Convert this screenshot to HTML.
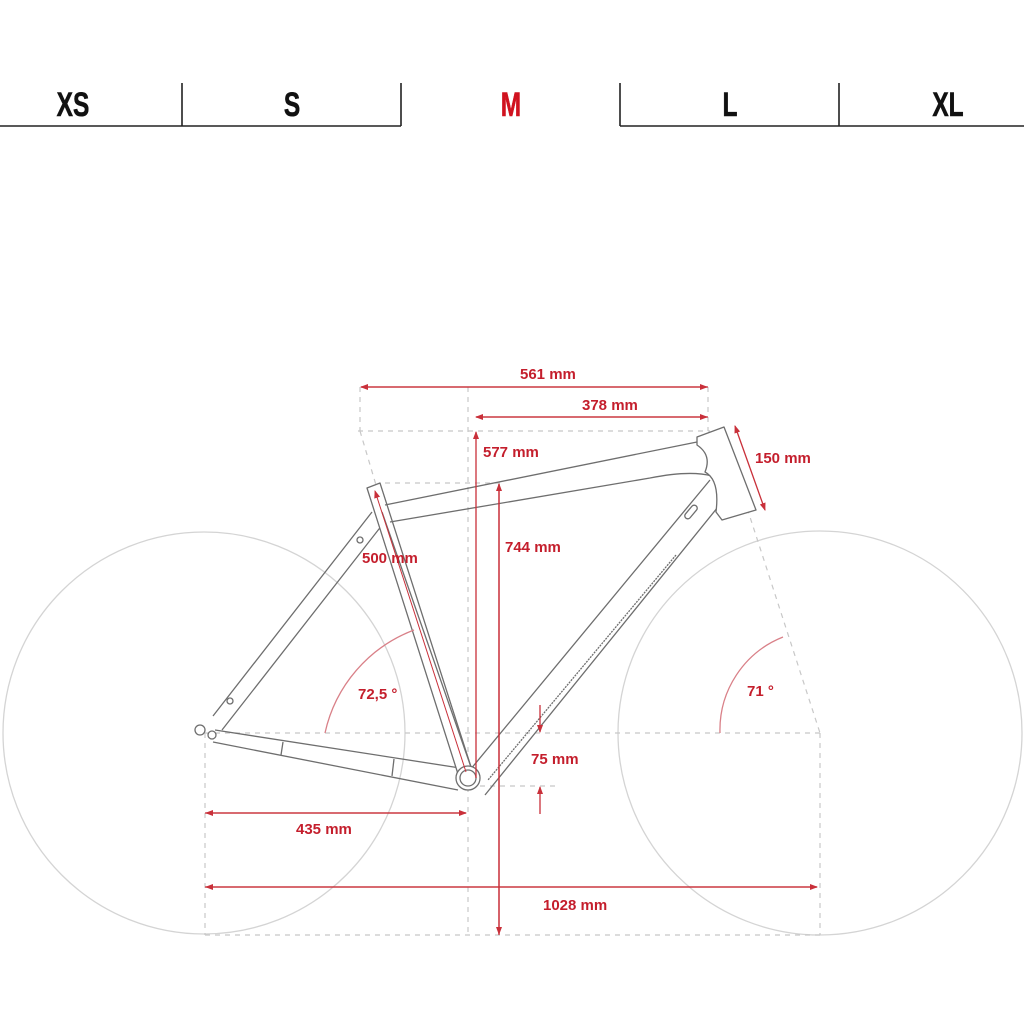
<!DOCTYPE html>
<html><head><meta charset="utf-8"><style>
html,body{margin:0;padding:0;background:#fff;}
svg{display:block;}
.t{font-family:"Liberation Sans",sans-serif;font-weight:bold;}
</style></head><body>
<svg width="1024" height="1024" viewBox="0 0 1024 1024" xmlns="http://www.w3.org/2000/svg">
<g stroke="#222" stroke-width="1.6" fill="none">
<line x1="0" y1="126" x2="401" y2="126"/>
<line x1="620" y1="126" x2="1024" y2="126"/>
<line x1="182" y1="83" x2="182" y2="126"/>
<line x1="401" y1="83" x2="401" y2="126"/>
<line x1="620" y1="83" x2="620" y2="126"/>
<line x1="839" y1="83" x2="839" y2="126"/>
</g>
<g class="t" font-size="34" text-anchor="middle" stroke-width="0.6">
<text x="73" y="116" fill="#111" stroke="#111" transform="translate(73 0) scale(0.72 1) translate(-73 0)">XS</text>
<text x="292" y="116" fill="#111" stroke="#111" transform="translate(292 0) scale(0.72 1) translate(-292 0)">S</text>
<text x="511" y="116" fill="#d0121f" stroke="#d0121f" transform="translate(511 0) scale(0.72 1) translate(-511 0)">M</text>
<text x="730" y="116" fill="#111" stroke="#111" transform="translate(730 0) scale(0.72 1) translate(-730 0)">L</text>
<text x="948" y="116" fill="#111" stroke="#111" transform="translate(948 0) scale(0.72 1) translate(-948 0)">XL</text>
</g>
<g stroke="#d4d4d4" stroke-width="1.3" fill="none">
<circle cx="204" cy="733" r="201"/>
<circle cx="820" cy="733" r="202"/>
</g>
<g stroke="#c8c8c8" stroke-width="1.2" fill="none" stroke-dasharray="5 5">
<line x1="358" y1="431" x2="710" y2="431"/>
<line x1="385" y1="483" x2="500" y2="483"/>
<line x1="205" y1="733" x2="822" y2="733"/>
<line x1="205" y1="935" x2="822" y2="935"/>
<line x1="205" y1="733" x2="205" y2="935"/>
<line x1="820" y1="733" x2="820" y2="935"/>
<line x1="468" y1="387" x2="468" y2="935"/>
<line x1="360" y1="387" x2="360" y2="431"/>
<line x1="360" y1="431" x2="376" y2="485"/>
<line x1="708" y1="387" x2="708" y2="431"/>
<line x1="470" y1="786" x2="560" y2="786"/>
<line x1="738" y1="480" x2="820" y2="733"/>
</g>
<g stroke="#6e6e6e" stroke-width="1.3" fill="#fff" stroke-linejoin="round">
<path d="M372,512 L213,716 M386,520 L222,730" fill="none"/>
<circle cx="360" cy="540" r="3"/><circle cx="230" cy="701" r="3"/>
<path d="M215,730 L460,768 M213,742 L458,790" fill="none"/>
<line x1="283" y1="742" x2="281" y2="755"/><line x1="394" y1="759" x2="392" y2="776"/>
<path d="M367,488 L380,483 L472,770 L458,774 Z"/>
<line x1="382" y1="512" x2="472" y2="770"/>
<path d="M385,505 L697,442 M390,522 L650,478 Q690,470 712,476" fill="none"/>
<path d="M710,480 L470,770 M722,502 L485,795" fill="none"/>
<path d="M676,555 L488,780" stroke-dasharray="2 1" fill="none"/>
<path d="M697,437 L724,427 L756,510 L722,520 L716,512 Q720,480 705,472 Q712,455 697,445 Z"/>
<rect x="683" y="509" width="16" height="6" rx="3" transform="rotate(-50 691 512)"/>
<circle cx="200" cy="730" r="5"/><circle cx="212" cy="735" r="4"/>
<circle cx="468" cy="778" r="12"/><circle cx="468" cy="778" r="8"/>
</g>
<defs>
<marker id="a" markerWidth="8" markerHeight="6" refX="7" refY="3" orient="auto" markerUnits="userSpaceOnUse"><path d="M0,0 L8,3 L0,6 Z" fill="#c9303a"/></marker>
</defs>
<g stroke="#c9303a" stroke-width="1.3" fill="none">
<line x1="708" y1="387" x2="361" y2="387" marker-end="url(#a)"/>
<line x1="361" y1="387" x2="707" y2="387" marker-end="url(#a)"/>
<line x1="708" y1="417" x2="476" y2="417" marker-end="url(#a)"/>
<line x1="476" y1="417" x2="707" y2="417" marker-end="url(#a)"/>
<line x1="476" y1="778" x2="476" y2="432" marker-end="url(#a)"/>
<line x1="499" y1="935" x2="499" y2="484" marker-end="url(#a)"/>
<line x1="499" y1="484" x2="499" y2="934" marker-end="url(#a)"/>
<line x1="750" y1="468" x2="735" y2="426" marker-end="url(#a)"/>
<line x1="750" y1="468" x2="765" y2="510" marker-end="url(#a)"/>
<line x1="466" y1="772" x2="375" y2="491" marker-end="url(#a)" stroke-width="1"/>
<line x1="205" y1="813" x2="466" y2="813" marker-end="url(#a)"/>
<line x1="466" y1="813" x2="206" y2="813" marker-end="url(#a)"/>
<line x1="205" y1="887" x2="817" y2="887" marker-end="url(#a)"/>
<line x1="817" y1="887" x2="206" y2="887" marker-end="url(#a)"/>
<line x1="540" y1="705" x2="540" y2="732" marker-end="url(#a)"/>
<line x1="540" y1="814" x2="540" y2="787" marker-end="url(#a)"/>
<path d="M325,733 A143,143 0 0 1 414,630" stroke="#d98088"/>
<path d="M720,733 A100,100 0 0 1 783,637" stroke="#d98088"/>
</g>
<g class="t" font-size="15" fill="#c41e2c">
<text x="520" y="379">561 mm</text>
<text x="582" y="410">378 mm</text>
<text x="483" y="457">577 mm</text>
<text x="755" y="463">150 mm</text>
<text x="505" y="552">744 mm</text>
<text x="362" y="563">500 mm</text>
<text x="358" y="699">72,5 °</text>
<text x="747" y="696">71 °</text>
<text x="531" y="764">75 mm</text>
<text x="296" y="834">435 mm</text>
<text x="543" y="910">1028 mm</text>
</g>
</svg>
</body></html>
